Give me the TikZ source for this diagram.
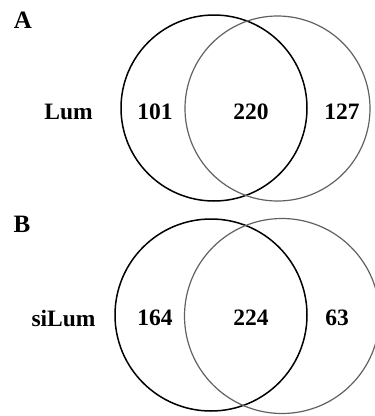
\documentclass[tikz,border=0pt]{standalone}
\usepackage{fontspec}
\setmainfont{Liberation Serif}
\begin{document}
\begin{tikzpicture}[x=1pt,y=-1pt,
  setA/.style={draw=black,line width=1.5pt},
  setB/.style={draw=black!62,line width=1.2pt},
  num/.style={font=\fontsize{23.5}{26}\selectfont\bfseries,inner sep=0pt},
  panel/.style={font=\fontsize{25}{27}\selectfont\bfseries,inner sep=0pt}]
\useasboundingbox (0,0) rectangle (375,416);
\clip (0,0) rectangle (375,416);
% Panel A
\node[panel] (pa) at (23,20.5) {A};
\draw[setA] (214,108) circle (93);
\draw[setB] (277.5,108.5) circle (92.5);
\node[num] (la) at (68.5,112) {Lum};
\node[num] (a1) at (155,112) {101};
\node[num] (a2) at (251,112) {220};
\node[num] (a3) at (342,112) {127};
% Panel B
\node[panel] (pb) at (22,224.5) {B};
\draw[setA] (211,315) circle (96);
\draw[setB] (282,316) circle (97.5);
\node[num] (lb) at (63.5,318) {siLum};
\node[num] (b1) at (155,318) {164};
\node[num] (b2) at (251,318) {224};
\node[num] (b3) at (337,318) {63};
\end{tikzpicture}
\end{document}
